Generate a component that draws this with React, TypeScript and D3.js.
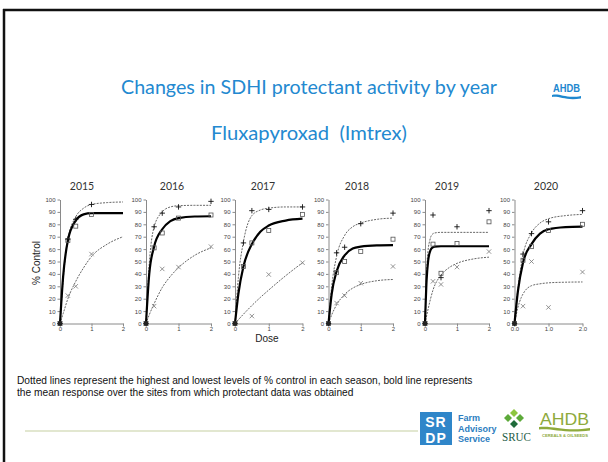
import React, { useEffect, useRef } from "react";
import * as d3 from "d3";

// ---------- data ----------
const years = ["2015", "2016", "2017", "2018", "2019", "2020"];
const xTickValues = [0, 1, 2];
const yTickValues = [0, 10, 20, 30, 40, 50, 60, 70, 80, 90, 100];

// markers: [dose, % control]
const plusPoints: number[][][] = [
  [[0, 0], [0.25, 68], [0.5, 84], [1, 96]],
  [[0, 0], [0.25, 78], [0.5, 89], [1, 94], [2, 98.5]],
  [[0, 0], [0.25, 65], [0.5, 91], [1, 92], [2, 94]],
  [[0, 0], [0.25, 57], [0.5, 61.5], [1, 80.5], [2, 89]],
  [[0, 0], [0.25, 87.5], [0.5, 37], [1, 78], [2, 91]],
  [[0, 0], [0.25, 56], [0.5, 72.5], [1, 82], [2, 91]],
];
const squarePoints: number[][][] = [
  [[0, 0], [0.25, 67], [0.5, 78.5], [1, 88]],
  [[0, 0], [0.25, 61], [0.5, 73], [1, 85], [2, 87.5]],
  [[0, 0], [0.25, 46], [0.5, 65], [1, 75], [2, 88]],
  [[0, 0], [0.25, 41], [0.5, 50], [1, 58], [2, 68]],
  [[0, 0], [0.25, 64], [0.5, 40.5], [1, 64.5], [2, 82]],
  [[0, 0], [0.25, 51], [0.5, 62], [1, 75], [2, 80]],
];
const crossPoints: number[][][] = [
  [[0, 0], [0.25, 22.5], [0.5, 30], [1, 56]],
  [[0, 0], [0.25, 14], [0.5, 44], [1, 45.5], [2, 62]],
  [[0, 0], [0.5, 6], [1, 39.5], [2, 49]],
  [[0, 0], [0.25, 16.5], [0.5, 22.5], [1, 32.5], [2, 46]],
  [[0, 0], [0.25, 34], [0.5, 31.5], [1, 45.5], [2, 58]],
  [[0, 0], [0.25, 14], [0.5, 50], [1, 13], [2, 41.5]],
];

// fitted curves, read at several doses: [dose, % control]
const upperCurve: number[][][] = [
  [[0, 0], [0.1, 35], [0.25, 68], [0.5, 86], [0.75, 93], [1, 96], [1.5, 97.5], [2, 98]],
  [[0, 0], [0.1, 48], [0.25, 78], [0.5, 90], [0.75, 94], [1, 95], [1.5, 95.3], [2, 95.3]],
  [[0, 0], [0.1, 37], [0.25, 66], [0.5, 87], [0.75, 91.5], [1, 93], [1.5, 94], [2, 94]],
  [[0, 0], [0.1, 30], [0.25, 54], [0.5, 71], [0.75, 78], [1, 81], [1.5, 84], [2, 85]],
  [[0, 0], [0.05, 42], [0.1, 60], [0.15, 67], [0.2, 71], [0.3, 73], [0.5, 73.5], [1, 73.5], [2, 73.5]],
  [[0, 0], [0.1, 28], [0.25, 55], [0.5, 73], [0.75, 81], [1, 84.5], [1.5, 87], [2, 88]],
];
const meanCurve: number[][][] = [
  [[0, 0], [0.1, 38], [0.25, 67], [0.5, 83], [0.75, 88], [1, 89], [1.5, 89], [2, 89]],
  [[0, 0], [0.1, 40], [0.25, 62], [0.5, 76], [0.75, 82.5], [1, 85], [1.5, 86.3], [2, 86.5]],
  [[0, 0], [0.1, 24], [0.25, 46], [0.5, 64], [0.75, 74], [1, 79], [1.5, 83], [2, 84.5]],
  [[0, 0], [0.1, 24], [0.25, 42], [0.5, 55], [0.75, 60.5], [1, 62], [1.5, 63], [2, 63.2]],
  [[0, 0], [0.05, 35], [0.1, 51], [0.15, 57.5], [0.2, 60.5], [0.3, 62], [0.5, 62.3], [1, 62.3], [2, 62.3]],
  [[0, 0], [0.1, 26], [0.25, 49], [0.5, 64], [0.75, 72.5], [1, 76], [1.5, 77.8], [2, 78.2]],
];
const lowerCurve: number[][][] = [
  [[0, 0], [0.1, 8], [0.25, 20], [0.5, 34], [0.75, 45], [1, 54], [1.5, 64], [2, 70]],
  [[0, 0], [0.1, 7], [0.25, 16], [0.5, 29], [0.75, 38], [1, 45], [1.5, 55], [2, 61]],
  [[0, 0], [0.25, 7.5], [0.5, 14.5], [0.75, 21], [1, 27], [1.5, 38.5], [2, 49]],
  [[0, 0], [0.1, 7], [0.25, 15], [0.5, 23.5], [0.75, 28.5], [1, 31.5], [1.5, 34.5], [2, 35.5]],
  [[0, 0], [0.1, 12], [0.25, 27], [0.5, 39], [0.75, 45], [1, 48.5], [1.5, 52], [2, 53.5]],
  [[0, 0], [0.1, 13], [0.2, 21], [0.3, 26], [0.5, 30.5], [0.75, 32], [1, 32.8], [1.5, 33.3], [2, 33.5]],
];

const titleText = "Changes in SDHI protectant activity by year";
const subtitleText = "Fluxapyroxad  (Imtrex)";
const yLabel = "% Control";
const xLabel = "Dose";
const noteLines = [
  "Dotted lines represent the highest and lowest levels of % control in each season, bold line represents",
  "the mean response over the sites from which protectant data was obtained",
];

// ---------- layout ----------
const W = 608;
const H = 462;
const panelX = [
  [60, 123],
  [146, 211],
  [235, 302.5],
  [328.5, 393],
  [425, 489],
  [514.5, 582.5],
];
const yBottom = 323.5;
const yTop = 199.5;
const yearTitleX = [82, 172, 263, 357, 447, 546];

const TITLE_FONT = "Lato, 'Open Sans', sans-serif";
const ARIAL = "'Liberation Sans', Arial, sans-serif";

export default function App() {
  const ref = useRef<SVGSVGElement | null>(null);

  useEffect(() => {
    const svg = d3.select(ref.current);
    svg.selectAll("*").remove();

    svg.append("rect").attr("width", W).attr("height", H).attr("fill", "#fff");

    // slide frame
    svg.append("line").attr("x1", 3).attr("x2", W).attr("y1", 10).attr("y2", 10)
      .attr("stroke", "#111").attr("stroke-width", 2.5);
    svg.append("line").attr("x1", 4).attr("x2", 4).attr("y1", 9).attr("y2", H)
      .attr("stroke", "#111").attr("stroke-width", 2.5);

    // titles
    svg.append("text").attr("x", 309).attr("y", 94).attr("text-anchor", "middle")
      .attr("font-family", TITLE_FONT).attr("font-size", 20).attr("fill", "#2389D0")
      .attr("textLength", 376).attr("lengthAdjust", "spacingAndGlyphs")
      .text(titleText);
    svg.append("text").attr("x", 309).attr("y", 140).attr("text-anchor", "middle")
      .attr("font-family", TITLE_FONT).attr("font-size", 20).attr("fill", "#2389D0")
      .style("white-space", "pre")
      .attr("textLength", 196).attr("lengthAdjust", "spacingAndGlyphs")
      .text(subtitleText);

    // AHDB blue logo top right
    svg.append("text").attr("x", 553).attr("y", 92)
      .attr("font-family", ARIAL).attr("font-weight", "bold").attr("font-size", 10.5)
      .attr("fill", "#1E88CF").attr("textLength", 27).attr("lengthAdjust", "spacingAndGlyphs")
      .text("AHDB");
    svg.append("path").attr("d", "M552,95 C560,93 566,99 581,96 L581,98.5 C566,101 560,96 552,97 Z")
      .attr("fill", "#1E88CF");

    const lineGen = d3.line<number[]>().curve(d3.curveMonotoneX);

    years.forEach((yr, i) => {
      const [xa, xb] = panelX[i];
      const x = d3.scaleLinear().domain([0, 2]).range([xa, xb]);
      const y = d3.scaleLinear().domain([0, 100]).range([yBottom, yTop]);
      const g = svg.append("g");

      // axes
      const yAxis = d3.axisLeft(y).tickValues(yTickValues).tickSize(2.5).tickSizeOuter(0);
      const gy = g.append("g").attr("transform", `translate(${xa},0)`).call(yAxis);
      const xfmt = i === 5 ? d3.format(".1f") : d3.format("d");
      const xAxis = d3.axisBottom(x).tickValues(xTickValues).tickSize(3).tickSizeOuter(0)
        .tickFormat((d) => xfmt(d as number));
      const gx = g.append("g").attr("transform", `translate(0,${yBottom})`).call(xAxis);
      [gx, gy].forEach((ax) => {
        ax.select(".domain").attr("stroke", "#8a8a8a").attr("stroke-width", 1);
        ax.selectAll(".tick line").attr("stroke", "#8a8a8a");
        ax.selectAll(".tick text").attr("font-family", ARIAL).attr("font-size", 6)
          .attr("fill", "#444");
      });
      gy.selectAll(".tick text").attr("x", -4.5);
      gx.selectAll(".tick text").attr("y", 3.5);

      // year title
      g.append("text").attr("x", yearTitleX[i]).attr("y", 190).attr("text-anchor", "middle")
        .attr("font-family", TITLE_FONT).attr("font-size", 10.5).attr("fill", "#333")
        .text(yr);

      const toXY = (pts: number[][]) => pts.map((p) => [x(p[0]), y(p[1])] as [number, number]);

      // curves
      g.append("path").attr("d", lineGen(toXY(upperCurve[i]) as any))
        .attr("fill", "none").attr("stroke", "#555").attr("stroke-width", 0.9)
        .attr("stroke-dasharray", "2,1.2");
      g.append("path").attr("d", lineGen(toXY(lowerCurve[i]) as any))
        .attr("fill", "none").attr("stroke", "#555").attr("stroke-width", 0.9)
        .attr("stroke-dasharray", "2,1.2");
      g.append("path").attr("d", lineGen(toXY(meanCurve[i]) as any))
        .attr("fill", "none").attr("stroke", "#000").attr("stroke-width", 2.2)
        .attr("stroke-linejoin", "round");

      // markers
      squarePoints[i].forEach(([d, v]) => {
        g.append("rect").attr("x", x(d) - 2).attr("y", y(v) - 2).attr("width", 4).attr("height", 4)
          .attr("fill", "none").attr("stroke", "#555").attr("stroke-width", 0.8);
      });
      crossPoints[i].forEach(([d, v]) => {
        const cx = x(d), cy = y(v), s = 2.2;
        g.append("path").attr("d", `M${cx - s},${cy - s}L${cx + s},${cy + s}M${cx - s},${cy + s}L${cx + s},${cy - s}`)
          .attr("stroke", "#777").attr("stroke-width", 0.8);
      });
      plusPoints[i].forEach(([d, v]) => {
        const cx = x(d), cy = y(v), s = 2.7;
        g.append("path").attr("d", `M${cx - s},${cy}H${cx + s}M${cx},${cy - s}V${cy + s}`)
          .attr("stroke", "#111").attr("stroke-width", 0.9);
      });
      // origin cluster
      g.append("rect").attr("x", x(0) - 2).attr("y", y(0) - 2).attr("width", 4).attr("height", 4)
        .attr("fill", "#222");
    });

    // axis labels
    svg.append("text").attr("transform", "translate(40,263) rotate(-90)").attr("text-anchor", "middle")
      .attr("font-family", ARIAL).attr("font-size", 10).attr("fill", "#222").text(yLabel);
    svg.append("text").attr("x", 267).attr("y", 341.5).attr("text-anchor", "middle")
      .attr("font-family", ARIAL).attr("font-size", 10).attr("fill", "#222").text(xLabel);

    // note
    noteLines.forEach((t, k) => {
      svg.append("text").attr("x", 17).attr("y", 383.5 + k * 12.5)
        .attr("font-family", ARIAL).attr("font-size", 10.2).attr("fill", "#111").text(t);
    });

    // separator line
    svg.append("line").attr("x1", 25).attr("x2", 418).attr("y1", 431).attr("y2", 431)
      .attr("stroke", "#e2e7d0").attr("stroke-width", 2);

    // SRDP logo
    svg.append("rect").attr("x", 420).attr("y", 412).attr("width", 32).attr("height", 33)
      .attr("fill", "#2F86C9");
    svg.append("text").attr("x", 436).attr("y", 427).attr("text-anchor", "middle")
      .attr("font-family", ARIAL).attr("font-weight", "bold").attr("font-size", 14)
      .attr("fill", "#fff").attr("letter-spacing", 1).text("SR");
    svg.append("text").attr("x", 436).attr("y", 443).attr("text-anchor", "middle")
      .attr("font-family", ARIAL).attr("font-weight", "bold").attr("font-size", 14)
      .attr("fill", "#fff").attr("letter-spacing", 1).text("DP");
    ["Farm", "Advisory", "Service"].forEach((t, k) => {
      svg.append("text").attr("x", 458).attr("y", 421 + k * 10.5)
        .attr("font-family", ARIAL).attr("font-weight", "bold").attr("font-size", 9)
        .attr("fill", "#2C7DC0").text(t);
    });

    // SRUC logo
    const dia = (cx: number, cy: number, r: number, fill: string) =>
      svg.append("path").attr("d", `M${cx},${cy - r}L${cx + r},${cy}L${cx},${cy + r}L${cx - r},${cy}Z`).attr("fill", fill);
    dia(514, 413, 4, "#8DC63F");
    dia(508, 418, 4, "#5DAA3A");
    dia(520, 418, 4, "#5DAA3A");
    dia(514, 424, 4, "#1F6B3A");
    svg.append("text").attr("x", 502).attr("y", 441)
      .attr("font-family", "'Liberation Serif', serif").attr("font-size", 12)
      .attr("fill", "#1E5C45").attr("textLength", 29).attr("lengthAdjust", "spacingAndGlyphs")
      .text("SRUC");

    // AHDB green logo
    svg.append("text").attr("x", 540).attr("y", 425)
      .attr("font-family", ARIAL).attr("font-size", 17).attr("fill", "#8EAA3C")
      .attr("textLength", 49).attr("lengthAdjust", "spacingAndGlyphs").text("AHDB");
    svg.append("path").attr("d", "M539,427 C552,425 565,432 590,428 L590,430.5 C565,434 552,428 539,429.5 Z")
      .attr("fill", "#8EAA3C");
    svg.append("text").attr("x", 542).attr("y", 437)
      .attr("font-family", ARIAL).attr("font-weight", "bold").attr("font-size", 4)
      .attr("fill", "#8EAA3C").attr("textLength", 46).attr("lengthAdjust", "spacingAndGlyphs")
      .text("CEREALS & OILSEEDS");
  }, []);

  return (
    <svg ref={ref} width={W} height={H}
      style={{ position: "absolute", left: 0, top: 0, display: "block" }} />
  );
}
